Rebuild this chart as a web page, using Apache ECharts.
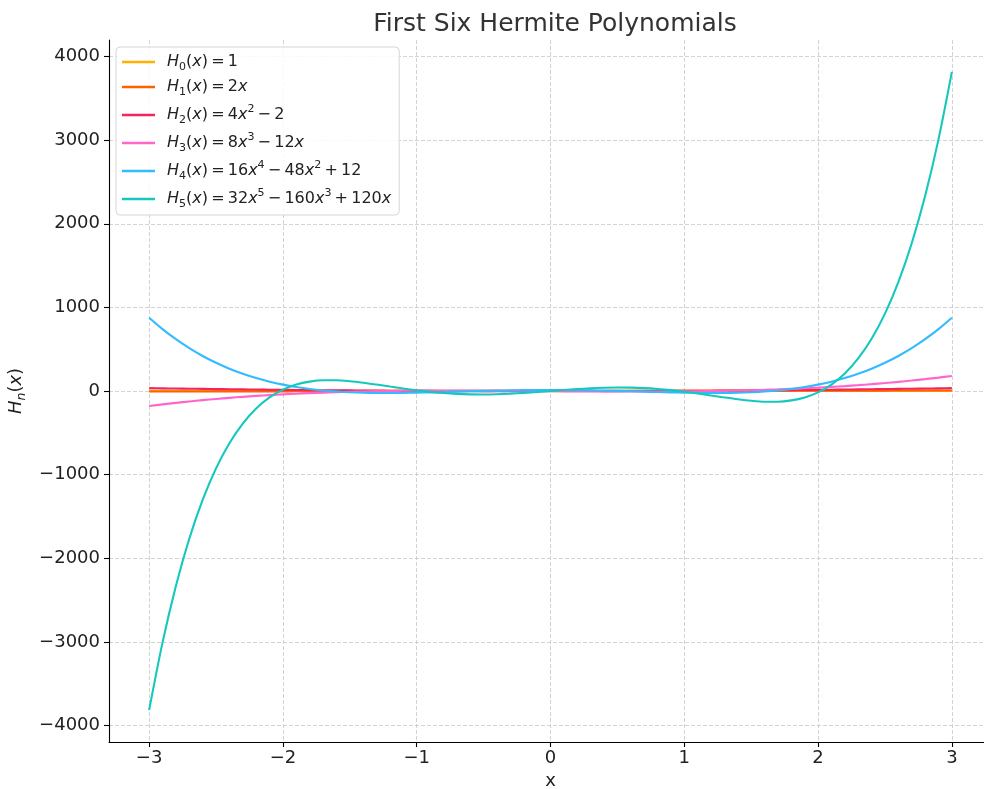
<!DOCTYPE html>
<html><head><meta charset="utf-8">
<script src="https://cdn.jsdelivr.net/npm/echarts@6/dist/echarts.min.js"></script>
<style>html,body{margin:0;padding:0;background:#fff}#c{width:984px;height:789px}</style>
</head><body><div id="c"></div><script>
const xs = [-3.0,-2.9,-2.8,-2.7,-2.6,-2.5,-2.4,-2.3,-2.2,-2.1,-2.0,-1.9,-1.8,-1.7,-1.6,-1.5,-1.4,-1.3,-1.2,-1.1,-1.0,-0.9,-0.8,-0.7,-0.6,-0.5,-0.4,-0.3,-0.2,-0.1,0,0.1,0.2,0.3,0.4,0.5,0.6,0.7,0.8,0.9,1.0,1.1,1.2,1.3,1.4,1.5,1.6,1.7,1.8,1.9,2.0,2.1,2.2,2.3,2.4,2.5,2.6,2.7,2.8,2.9,3.0];
const H0 = [1,1,1,1,1,1,1,1,1,1,1,1,1,1,1,1,1,1,1,1,1,1,1,1,1,1,1,1,1,1,1,1,1,1,1,1,1,1,1,1,1,1,1,1,1,1,1,1,1,1,1,1,1,1,1,1,1,1,1,1,1];
const H1 = [-6,-5.8,-5.6,-5.4,-5.2,-5,-4.8,-4.6,-4.4,-4.2,-4,-3.8,-3.6,-3.4,-3.2,-3,-2.8,-2.6,-2.4,-2.2,-2,-1.8,-1.6,-1.4,-1.2,-1,-0.8,-0.6,-0.4,-0.2,0,0.2,0.4,0.6,0.8,1,1.2,1.4,1.6,1.8,2,2.2,2.4,2.6,2.8,3,3.2,3.4,3.6,3.8,4,4.2,4.4,4.6,4.8,5,5.2,5.4,5.6,5.8,6];
const H2 = [34,31.64,29.36,27.16,25.04,23,21.04,19.16,17.36,15.64,14,12.44,10.96,9.56,8.24,7,5.84,4.76,3.76,2.84,2,1.24,0.56,-0.04,-0.56,-1,-1.36,-1.64,-1.84,-1.96,-2,-1.96,-1.84,-1.64,-1.36,-1,-0.56,-0.04,0.56,1.24,2,2.84,3.76,4.76,5.84,7,8.24,9.56,10.96,12.44,14,15.64,17.36,19.16,21.04,23,25.04,27.16,29.36,31.64,34];
const H3 = [-180,-160.31,-142.02,-125.06,-109.41,-95,-81.79,-69.74,-58.78,-48.89,-40,-32.07,-25.06,-18.9,-13.57,-9,-5.15,-1.98,0.58,2.55,4,4.97,5.5,5.66,5.47,5,4.29,3.38,2.34,1.19,0,-1.19,-2.34,-3.38,-4.29,-5,-5.47,-5.66,-5.5,-4.97,-4,-2.55,-0.58,1.98,5.15,9,13.57,18.9,25.06,32.07,40,48.89,58.78,69.74,81.79,95,109.41,125.06,142.02,160.31,180];
const H4 = [876,739.97,619.13,512.39,418.68,337,266.36,205.83,154.49,111.49,76,47.23,24.44,6.91,-6.02,-15,-20.61,-23.42,-23.94,-22.65,-20,-16.38,-12.17,-7.68,-3.21,1,4.73,7.81,10.11,11.52,12,11.52,10.11,7.81,4.73,1,-3.21,-7.68,-12.17,-16.38,-20,-22.65,-23.94,-23.42,-20.61,-15,-6.02,6.91,24.44,47.23,76,111.49,154.49,205.83,266.36,337,418.68,512.39,619.13,739.97,876];
const H5 = [-3816,-3009.33,-2331,-1766.37,-1301.88,-925,-624.2,-388.91,-209.48,-77.15,16,77.09,112.46,127.73,127.82,117,98.94,76.71,52.85,29.42,8,-10.26,-24.57,-34.5,-39.93,-41,-38.09,-31.76,-22.73,-11.84,0,11.84,22.73,31.76,38.09,41,39.93,34.5,24.57,10.26,-8,-29.42,-52.85,-76.71,-98.94,-117,-127.82,-127.73,-112.46,-77.09,-16,77.15,209.48,388.91,624.2,925,1301.88,1766.37,2331,3009.33,3816];
const seriesNames = ['H0','H1','H2','H3','H4','H5'];
const legendLabels = [
  '{f|H}{sb|0}{n|(}{i|x}{n|)\u2009=\u20091}',
  '{f|H}{sb|1}{n|(}{i|x}{n|)\u2009=\u20092}{i|x}',
  '{f|H}{sb|2}{n|(}{i|x}{n|)\u2009=\u20094}{i|x}{sp|2}{n|\u2009\u2212\u20092}',
  '{f|H}{sb|3}{n|(}{i|x}{n|)\u2009=\u20098}{i|x}{sp|3}{n|\u2009\u2212\u200912}{i|x}',
  '{f|H}{sb|4}{n|(}{i|x}{n|)\u2009=\u200916}{i|x}{sp|4}{n|\u2009\u2212\u200948}{i|x}{sp|2}{n|\u2009+\u200912}',
  '{f|H}{sb|5}{n|(}{i|x}{n|)\u2009=\u200932}{i|x}{sp|5}{n|\u2009\u2212\u2009160}{i|x}{sp|3}{n|\u2009+\u2009120}{i|x}'
];
const colors = ['#FFB000','#FE6100','#F5255C','#FF66CC','#33BBFF','#14C8BE'];
const xTicks = [-3,-2,-1,0,1,2,3];
const yTicks = [-4000,-3000,-2000,-1000,0,1000,2000,3000,4000];
const titleText = 'First Six Hermite Polynomials';
const xName = 'x';
const yName = '{i|H}{sb|n}{n|(}{i|x}{n|)}';

const allY = [H0,H1,H2,H3,H4,H5];
const FONT = 'DejaVu Sans';
const fmt = v => String(v).replace('-', '\u2212');

const chart = echarts.init(document.getElementById('c'), null, {renderer:'canvas'});
chart.setOption({
  animation: false,
  backgroundColor: '#fff',
  textStyle: {fontFamily: FONT},
  title: {text: titleText, left: 550, top: 7, textAlign: 'center',
    textStyle: {fontFamily: FONT, fontSize: 25, fontWeight: 'normal', color: '#333'}},
  grid: {left: 109, top: 40, width: 883, height: 702, containLabel: false, outerBoundsMode: 'none'},
  legend: {
    orient: 'vertical', left: 116, top: 47,
    padding: [7, 8, 5, 6], itemGap: 6, itemWidth: 33, itemHeight: 2.5,
    icon: 'rect',
    backgroundColor: 'rgba(255,255,255,0.85)', borderColor: '#d6d6d6', borderWidth: 1, borderRadius: 4,
    data: seriesNames,
    formatter: name => legendLabels[seriesNames.indexOf(name)],
    textStyle: {
      color: '#222', fontFamily: FONT, fontSize: 16,
      rich: {
        f: {fontFamily: FONT, fontSize: 16, fontStyle: 'italic', lineHeight: 22, color: '#222', padding: [0,0,0,7]},
        i: {fontFamily: FONT, fontSize: 16, fontStyle: 'italic', lineHeight: 22, color: '#222'},
        n: {fontFamily: FONT, fontSize: 16, lineHeight: 22, color: '#222'},
        sb: {fontFamily: FONT, fontSize: 11, lineHeight: 11, verticalAlign: 'bottom', color: '#222'},
        sp: {fontFamily: FONT, fontSize: 11, lineHeight: 11, verticalAlign: 'top', color: '#222'}
      }
    }
  },
  xAxis: {
    type: 'value', min: -3.3, max: 3.3,
    name: xName, nameLocation: 'middle', nameGap: 30,
    nameTextStyle: {fontFamily: FONT, fontSize: 18, color: '#222'},
    axisLine: {show: true, onZero: false, lineStyle: {color: '#000', width: 1.1}},
    axisTick: {show: true, length: 5, inside: false, customValues: xTicks, lineStyle: {color: '#000', width: 1.1}},
    axisLabel: {show: true, margin: 7, customValues: xTicks, formatter: fmt, fontFamily: FONT, fontSize: 18, color: '#222'},
    splitLine: {show: true, lineStyle: {color: '#c8c8c8', type: [4, 2], width: 0.8}}
  },
  yAxis: {
    type: 'value', min: -4197.6, max: 4197.6,
    name: yName, nameLocation: 'middle', nameGap: 76, nameRotate: 90,
    nameTextStyle: {fontFamily: FONT, fontSize: 18, color: '#222',
      rich: {
        i: {fontFamily: FONT, fontSize: 18, fontStyle: 'italic', lineHeight: 24, color: '#222'},
        n: {fontFamily: FONT, fontSize: 18, lineHeight: 24, color: '#222'},
        sb: {fontFamily: FONT, fontSize: 12.5, fontStyle: 'italic', lineHeight: 11, verticalAlign: 'bottom', color: '#222'}
      }},
    axisLine: {show: true, onZero: false, lineStyle: {color: '#000', width: 1.1}},
    axisTick: {show: true, length: 5, inside: false, customValues: yTicks, lineStyle: {color: '#000', width: 1.1}},
    axisLabel: {show: true, margin: 9, customValues: yTicks, formatter: fmt, fontFamily: FONT, fontSize: 18, color: '#222'},
    splitLine: {show: true, lineStyle: {color: '#c8c8c8', type: [4, 2], width: 0.8}}
  },
  series: seriesNames.map((nm, k) => ({
    name: nm, type: 'line', symbol: 'none', smooth: 0.3, clip: true,
    color: colors[k],
    lineStyle: {color: colors[k], width: 2.1},
    emphasis: {disabled: true},
    z: 2 + k,
    data: xs.map((x, j) => [x, allY[k][j]])
  }))
});
</script></body></html>
